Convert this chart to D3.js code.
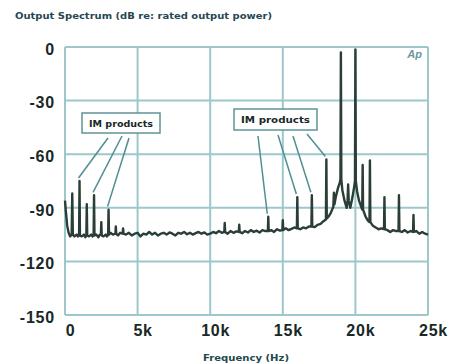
<!DOCTYPE html>
<html><head><meta charset="utf-8">
<script src="https://cdn.jsdelivr.net/npm/d3@7"></script>
<style>body{margin:0;background:#fff}svg{display:block}</style>
</head><body>
<script>
const title = "Output Spectrum (dB re: rated output power)";
const xTitle = "Frequency (Hz)";
const xTicks = [0, 5000, 10000, 15000, 20000, 25000];
const xTickLabels = ["0", "5k", "10k", "15k", "20k", "25k"];
const yTicks = [0, -30, -60, -90, -120, -150];
const yTickLabels = ["0", "-30", "-60", "-90", "-120", "-150"];
// measured spectrum trace: [frequency Hz, level dB]
const trace = [
[0,-86],[60,-92],[150,-100],[250,-104],[350,-106],
[460,-105],[500,-82],[540,-105],[650,-106],[800,-105],[900,-106],
[970,-105.5],[1000,-75],[1030,-105.5],[1150,-106],[1300,-105],[1400,-106.5],
[1470,-105],[1500,-88],[1530,-105.5],[1650,-106],[1800,-105],[1900,-106],
[1970,-105],[2000,-83],[2030,-105.5],[2150,-105],[2300,-106.5],[2400,-105],
[2470,-105],[2500,-98],[2530,-105.5],[2650,-106],[2800,-105],[2900,-106],
[2970,-105],[3000,-91],[3030,-105],[3150,-104],[3300,-105],
[3470,-104.5],[3500,-100.5],[3530,-104.5],[3650,-105.5],[3800,-104],
[3970,-104.5],[4000,-101.5],[4030,-104.5],
[4200,-105],[4400,-104],[4600,-105.5],[4800,-104.5],[5000,-104],[5200,-106],[5400,-104.5],[5600,-105],[5800,-103.5],[6000,-105],[6200,-104],[6400,-105.5],[6600,-104.5],[6800,-104],[7000,-105],[7200,-103.8],[7400,-104.5],[7600,-105.5],[7800,-104],[8000,-104.5],[8200,-103.5],[8400,-104.8],[8600,-104],[8800,-105],[9000,-104.2],[9200,-103.5],[9400,-104.5],[9600,-103.8],[9800,-105],[10000,-104.5],[10200,-103.5],[10400,-104.2],[10600,-103],[10800,-104],
[10970,-103.5],[11000,-98.5],[11030,-103.5],
[11200,-104.5],[11400,-103],[11600,-104],[11800,-103.2],
[11970,-103.5],[12000,-99.5],[12030,-103.5],
[12200,-104.2],[12400,-103],[12600,-103.8],[12800,-102.5],[13000,-103.5],[13200,-102.8],[13400,-103.8],[13600,-102.5],[13800,-103],
[13970,-103],[14000,-95],[14030,-103],
[14200,-102.5],[14400,-103.5],[14600,-102],[14800,-102.8],
[14970,-102.5],[15000,-97],[15030,-102.5],
[15200,-101.5],[15400,-102.5],[15600,-101.8],[15800,-101],
[15970,-101.5],[16000,-84],[16030,-101.5],
[16200,-102],[16400,-101],[16600,-101.5],[16800,-100.5],
[16970,-100.5],[17000,-83],[17030,-100.5],
[17200,-100.8],[17400,-99.5],[17600,-99],[17800,-97.5],
[17970,-96.5],[18000,-63],[18030,-96],
[18150,-95],[18300,-93],[18450,-90],
[18480,-89.5],[18520,-81.5],[18560,-88],
[18650,-84],[18800,-79],[18920,-76],
[18970,-74],[19000,-3],[19030,-74],
[19100,-80],[19250,-86],[19400,-90],
[19460,-86],[19500,-77],[19540,-86],
[19650,-90],[19800,-84],[19920,-78],
[19970,-75],[20000,-1.5],[20030,-75],
[20120,-81],[20250,-86],
[20470,-91],[20500,-66],[20530,-91],
[20700,-95],[20850,-97],
[20970,-98],[21000,-63.5],[21030,-98],
[21200,-100],[21400,-101],[21600,-102],[21800,-101.5],
[21970,-102],[22000,-84],[22030,-102],
[22200,-102.5],[22400,-103.5],[22600,-102.5],[22800,-103],
[22970,-103],[23000,-83],[23030,-103],
[23200,-103.5],[23400,-102.5],[23600,-103.8],[23800,-103],
[23970,-103.5],[24000,-94],[24030,-103.5],
[24200,-103],[24400,-104.5],[24600,-103.5],[24800,-104.5],[25000,-105]
];
const annotations = [
  {label: "IM products", box: [82, 113, 78, 20], targets: [1000, 2000, 3000]},
  {label: "IM products", box: [234, 109, 83, 21], targets: [14000, 16000, 17000, 18000]}
];
// leader-line starting points (just below each box)
const leaderStarts = [[108,138],[122,136],[129,138],[258,136],[278,135],[293,136],[307,134]];

const W = 462, H = 363;
const m = {left: 65, right: 34, top: 47, bottom: 48};
const svg = d3.select("body").append("svg").attr("width", W).attr("height", H);
const x = d3.scaleLinear().domain([0, 25000]).range([m.left, W - m.right]);
const y = d3.scaleLinear().domain([-150, 0]).range([H - m.bottom, m.top]);

const gridColor = "#9cc7cb";
const txtColor = "#182826";
const titleColor = "#25474f";

svg.append("text").attr("x", 15).attr("y", 19).text(title)
  .attr("font-family", "DejaVu Sans, sans-serif").attr("font-weight", "bold")
  .attr("font-size", 9.5).attr("fill", titleColor)
  .attr("textLength", 257).attr("lengthAdjust", "spacingAndGlyphs");

// grid
const g = svg.append("g");
g.selectAll(".vg").data(xTicks).join("line")
  .attr("x1", d => x(d)).attr("x2", d => x(d)).attr("y1", y(0)).attr("y2", y(-150))
  .attr("stroke", gridColor).attr("stroke-width", 2);
g.selectAll(".hg").data(yTicks).join("line")
  .attr("y1", d => y(d)).attr("y2", d => y(d)).attr("x1", x(0)).attr("x2", x(25000))
  .attr("stroke", gridColor).attr("stroke-width", 2);

// axes labels via d3 axes
const xAxis = d3.axisBottom(x).tickValues(xTicks).tickSize(0).tickPadding(10)
  .tickFormat((d, i) => xTickLabels[i]);
const xa = svg.append("g").attr("transform", `translate(0,${y(-150)})`).call(xAxis);
xa.select(".domain").remove();
xa.selectAll("text").attr("font-family", "Liberation Sans, Arial, sans-serif")
  .attr("font-weight", "bold").attr("font-size", 16).attr("fill", txtColor)
  .attr("dx", 5).attr("letter-spacing", 0.8);

const yAxis = d3.axisLeft(y).tickValues(yTicks).tickSize(0).tickPadding(10)
  .tickFormat((d, i) => yTickLabels[i]);
const ya = svg.append("g").attr("transform", `translate(${x(0)},0)`).call(yAxis);
ya.select(".domain").remove();
ya.selectAll("text").attr("font-family", "Liberation Sans, Arial, sans-serif")
  .attr("font-weight", "bold").attr("font-size", 16).attr("fill", txtColor)
  .attr("dy", "0.45em").attr("letter-spacing", 0.8);

svg.append("text").attr("x", 246).attr("y", 361).attr("text-anchor", "middle").text(xTitle)
  .attr("font-family", "DejaVu Sans, sans-serif").attr("font-weight", "bold")
  .attr("font-size", 9.5).attr("fill", titleColor)
  .attr("textLength", 86).attr("lengthAdjust", "spacingAndGlyphs");

// Ap logo
svg.append("text").attr("x", 422).attr("y", 58).attr("text-anchor", "end").text("Ap")
  .attr("font-family", "Liberation Sans, Arial, sans-serif").attr("font-weight", "bold")
  .attr("font-style", "italic").attr("font-size", 11).attr("fill", "#6f95a0");

// trace
const line = d3.line().x(d => x(d[0])).y(d => y(d[1]));
svg.append("path").datum(trace).attr("d", line).attr("fill", "none")
  .attr("stroke", "#2a3e37").attr("stroke-width", 2.4).attr("stroke-linejoin", "round");

// annotations
const peakOf = f => trace.find(d => d[0] === f);
let li = 0;
annotations.forEach(a => {
  a.targets.forEach(f => {
    const p = peakOf(f);
    const s = leaderStarts[li++];
    svg.append("line").attr("x1", s[0]).attr("y1", s[1])
      .attr("x2", x(p[0]) - 1).attr("y2", y(p[1]) - 3)
      .attr("stroke", "#4f8f92").attr("stroke-width", 1.5);
  });
  const [bx, by, bw, bh] = a.box;
  svg.append("rect").attr("x", bx).attr("y", by).attr("width", bw).attr("height", bh)
    .attr("fill", "#fff").attr("stroke", "#5f9497").attr("stroke-width", 1.5);
  svg.append("text").attr("x", bx + bw / 2).attr("y", by + bh / 2 + 3.5)
    .attr("text-anchor", "middle").text(a.label)
    .attr("font-family", "DejaVu Sans, sans-serif").attr("font-weight", "bold")
    .attr("font-size", 9.5).attr("fill", txtColor)
    .attr("textLength", bw - 14).attr("lengthAdjust", "spacingAndGlyphs");
});
</script>
</body></html>
